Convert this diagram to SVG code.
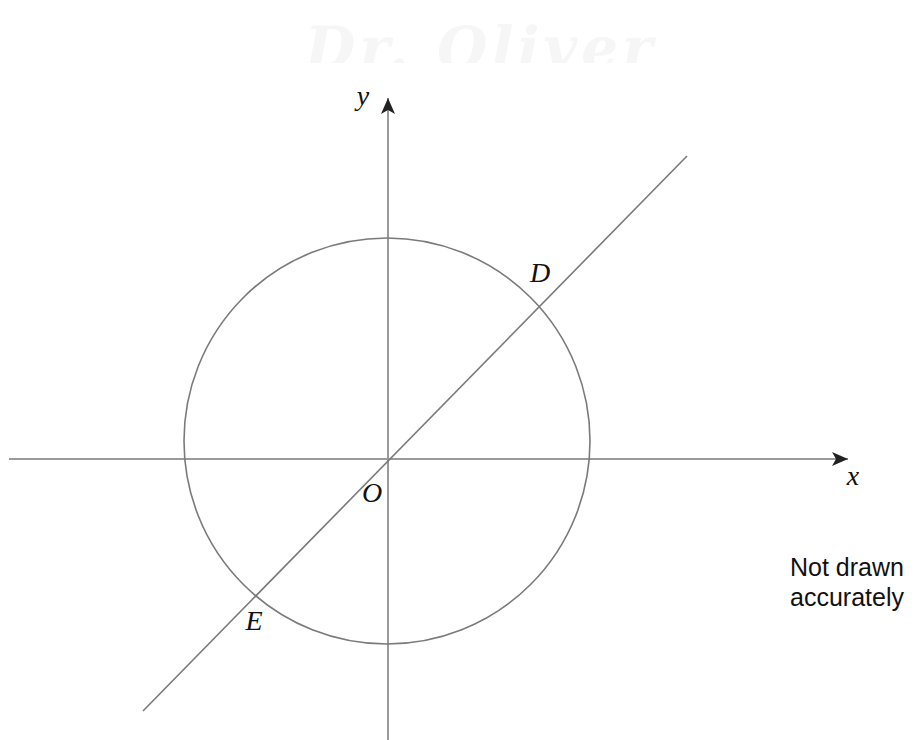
<svg xmlns="http://www.w3.org/2000/svg" width="914" height="740" viewBox="0 0 914 740">
<style>
.ax{stroke:#9a9a9a;stroke-width:2;fill:none}
.ln{stroke:#7a7a7a;stroke-width:1.6;fill:none}
.lbl{font-family:"Liberation Serif",serif;font-style:italic;font-size:28px;fill:#111;text-anchor:middle}
.note{font-family:"Liberation Sans",Arial,sans-serif;font-size:25px;fill:#111}
</style>
<defs>
<marker id="ah" viewBox="0 0 16 14" refX="16" refY="7" markerWidth="16" markerHeight="14" markerUnits="userSpaceOnUse" orient="auto">
<path d="M0,0 L16,7 L0,14 L4,7 Z" fill="#222"/>
</marker>
<clipPath id="wm"><rect x="0" y="0" width="914" height="63"/></clipPath>
</defs>
<rect width="914" height="740" fill="#fff"/>
<g id="watermark" clip-path="url(#wm)">
<text x="305" y="68" font-family="'DejaVu Serif',serif" font-style="italic" font-weight="bold" font-size="58" fill="#f6f6f6" letter-spacing="4">Dr. Oliver</text>
</g>
<g id="connectors">
<line id="x-axis" class="ax" x1="9" y1="459" x2="848" y2="459" marker-end="url(#ah)"/>
<line id="y-axis" class="ax" x1="388" y1="740" x2="388" y2="98" marker-end="url(#ah)"/>
<line id="line-DE" class="ln" x1="143" y1="711" x2="687" y2="156"/>
</g>
<g id="circle"><circle class="ln" cx="387" cy="441" r="203"/></g>
<g id="label-y"><text class="lbl" x="363" y="105">y</text></g>
<g id="label-x"><text class="lbl" x="853" y="485">x</text></g>
<g id="label-O"><text class="lbl" x="372" y="502">O</text></g>
<g id="label-D"><text class="lbl" x="540" y="282">D</text></g>
<g id="label-E"><text class="lbl" x="254" y="630">E</text></g>
<g id="note"><text class="note" x="790" y="576">Not drawn</text><text class="note" x="790" y="606">accurately</text></g>
</svg>
